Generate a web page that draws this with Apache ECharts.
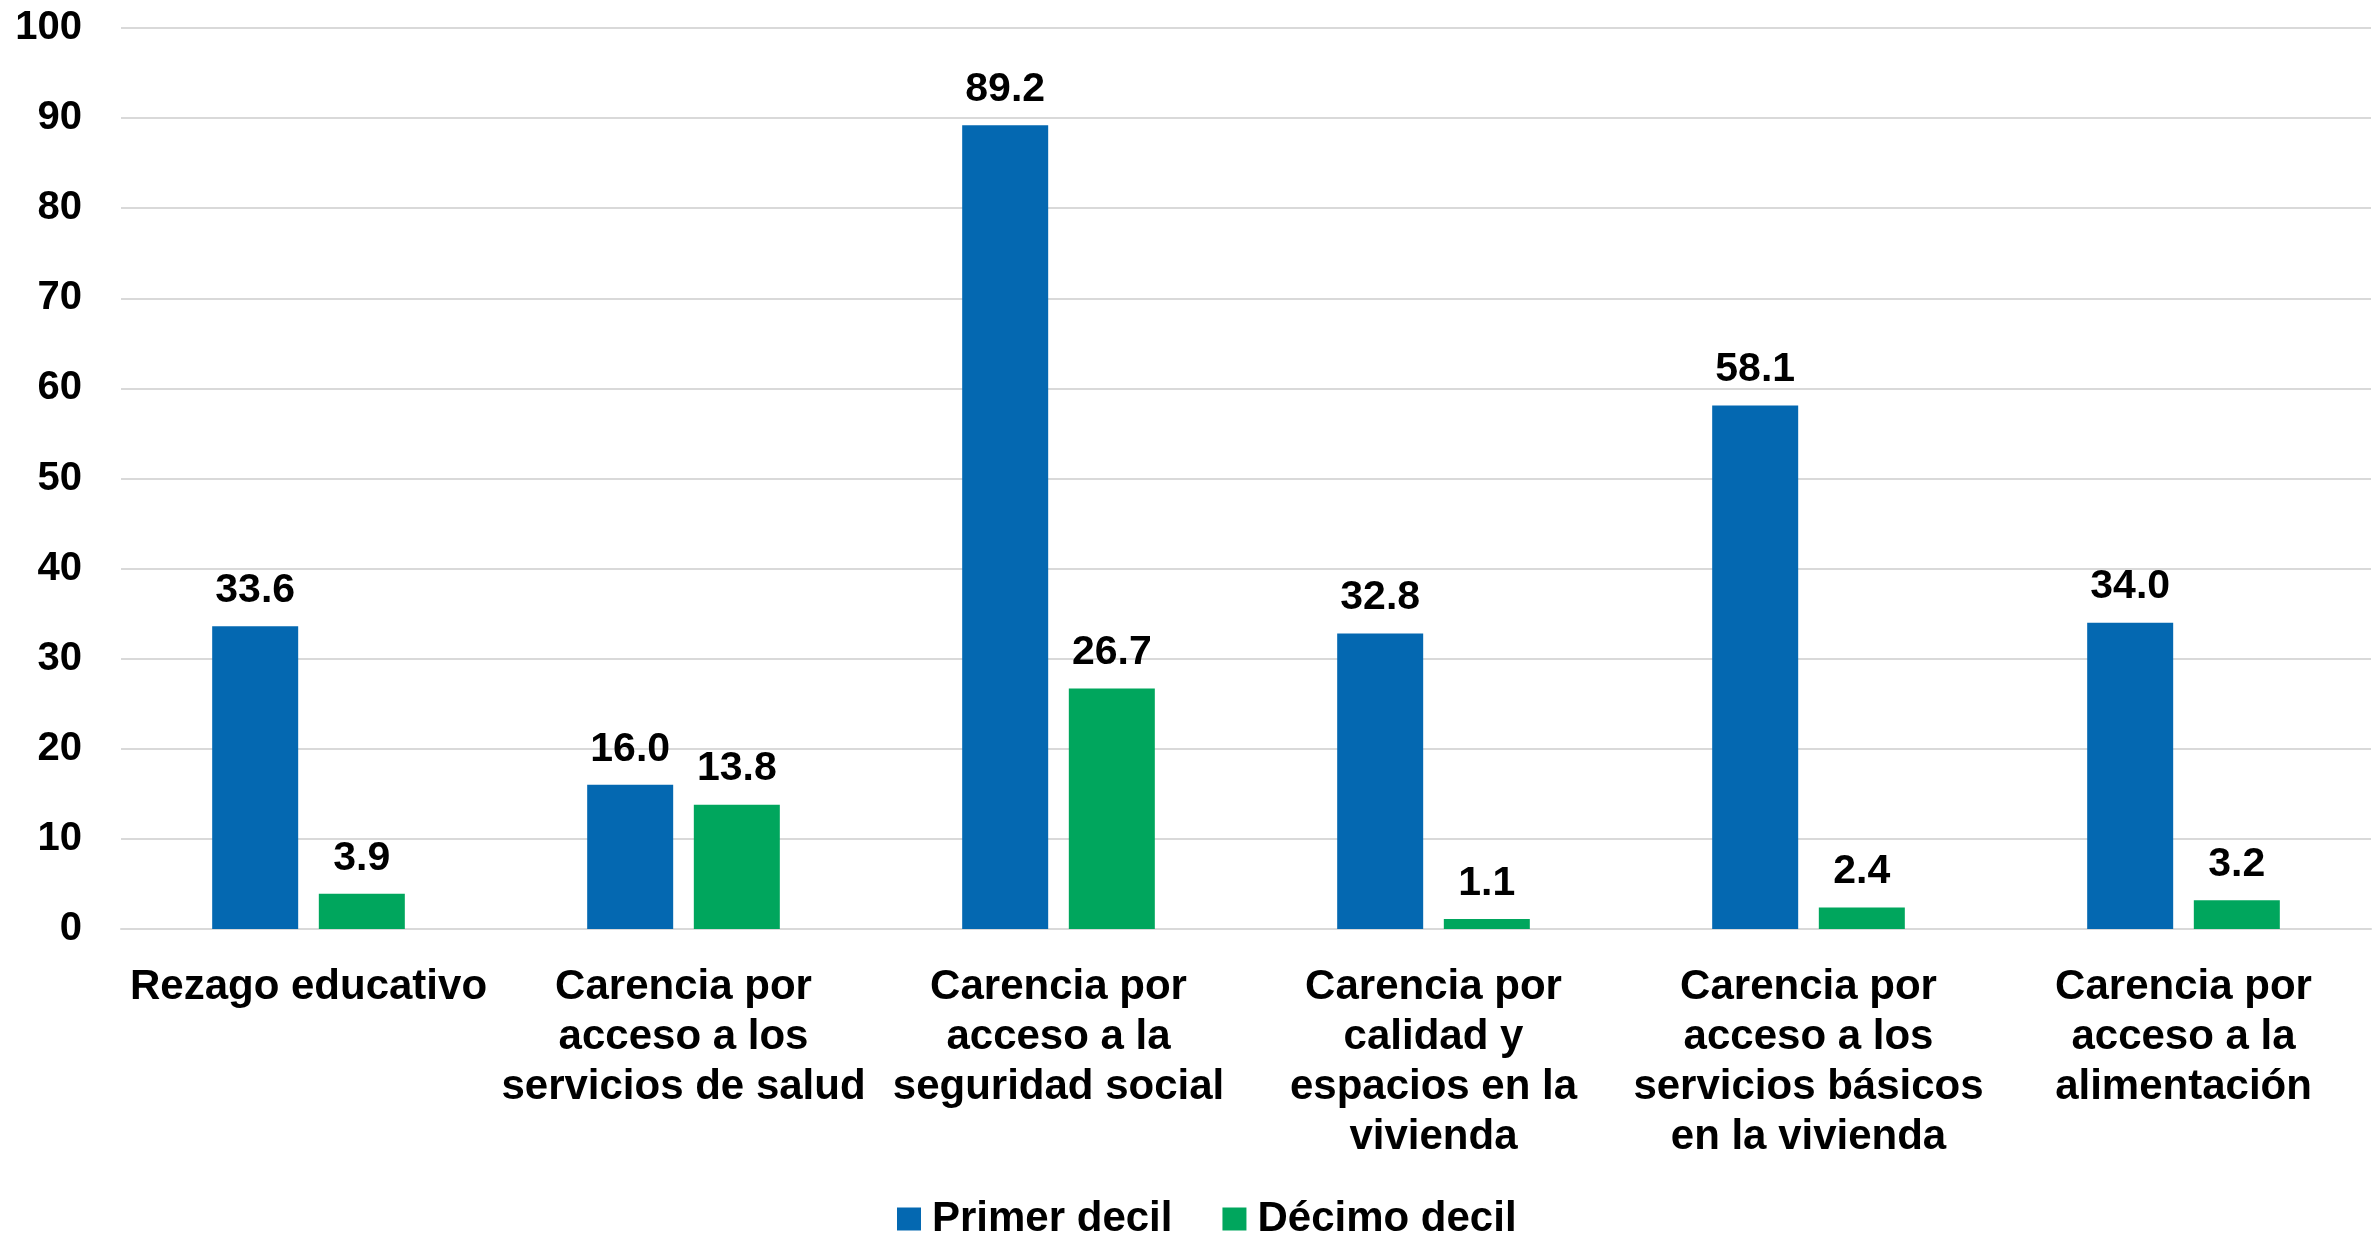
<!DOCTYPE html>
<html>
<head>
<meta charset="utf-8">
<script src="https://cdn.jsdelivr.net/npm/echarts@6/dist/echarts.min.js"></script>
<style>
  html, body { margin: 0; padding: 0; background: #fff; }
  #chart { width: 2374px; height: 1235px; }
</style>
</head>
<body>
<div id="chart"></div>
<script>
  var categories = [
    'Rezago educativo',
    'Carencia por\nacceso a los\nservicios de salud',
    'Carencia por\nacceso a la\nseguridad social',
    'Carencia por\ncalidad y\nespacios en la\nvivienda',
    'Carencia por\nacceso a los\nservicios básicos\nen la vivienda',
    'Carencia por\nacceso a la\nalimentación'
  ];
  var primerDecil = [33.6, 16.0, 89.2, 32.8, 58.1, 34.0];
  var decimoDecil = [3.9, 13.8, 26.7, 1.1, 2.4, 3.2];
  var seriesNames = ['Primer decil', 'Décimo decil'];

  var font = '"Liberation Sans", Arial, sans-serif';
  var blue = '#0468B1';
  var green = '#00A65D';
  var gridColor = '#D9D9D9';

  var chart = echarts.init(document.getElementById('chart'));

  function barLabel() {
    return {
      show: true,
      position: 'top',
      distance: 15,
      color: '#000',
      fontFamily: font,
      fontWeight: 'bold',
      fontSize: 41,
      formatter: function (p) {
        return p.value.toFixed(1);
      }
    };
  }

  var options = {
    animation: false,
    grid: {
      left: 121,
      right: 3,
      top: 28,
      bottom: 306,
      containLabel: false
    },
    legend: {
      left: 892,
      top: 1193,
      itemWidth: 24,
      itemHeight: 23,
      itemGap: 50,
      icon: 'rect',
      data: seriesNames,
      textStyle: {
        color: '#000',
        fontFamily: font,
        fontWeight: 'bold',
        fontSize: 42,
        padding: [0, 0, 0, 6]
      }
    },
    xAxis: {
      type: 'category',
      data: categories,
      axisLine: {
        show: true,
        lineStyle: { color: gridColor, width: 2 }
      },
      axisTick: { show: false },
      axisLabel: {
        interval: 0,
        margin: 33,
        color: '#000',
        fontFamily: font,
        fontWeight: 'bold',
        fontSize: 42,
        lineHeight: 50,
        align: 'center'
      }
    },
    yAxis: {
      type: 'value',
      min: 0,
      max: 100,
      interval: 10,
      axisLine: { show: false },
      axisTick: { show: false },
      axisLabel: {
        margin: 39,
        color: '#000',
        fontFamily: font,
        fontWeight: 'bold',
        fontSize: 40
      },
      splitLine: {
        show: true,
        lineStyle: { color: gridColor, width: 2 }
      }
    },
    series: [
      {
        name: seriesNames[0],
        type: 'bar',
        data: primerDecil,
        barWidth: 86,
        barGap: '24%',
        itemStyle: { color: blue },
        label: barLabel()
      },
      {
        name: seriesNames[1],
        type: 'bar',
        data: decimoDecil,
        barWidth: 86,
        barGap: '24%',
        itemStyle: { color: green },
        label: barLabel()
      }
    ]
  };

  chart.setOption(options);
</script>
</body>
</html>
